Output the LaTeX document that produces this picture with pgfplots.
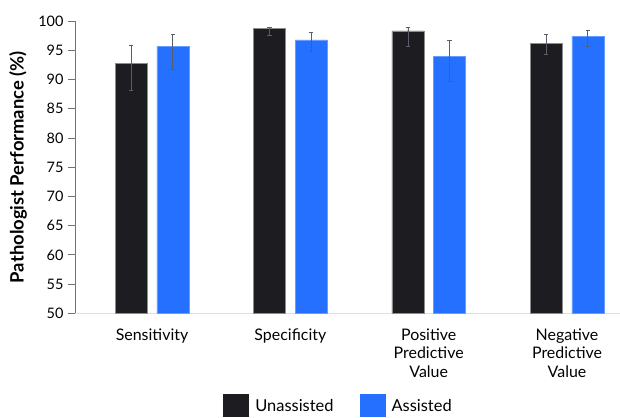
\documentclass[border=0pt]{standalone}
\usepackage{pgfplots}
\pgfplotsset{compat=1.18}
\usepackage{fontspec}
\setmainfont{Lato}
\definecolor{unas}{HTML}{1D1D21}
\definecolor{asst}{HTML}{2570FF}
\definecolor{errc}{HTML}{5C5C6A}
\pgfplotstableread{
x y ep em
0 92.8 3.1 4.6
1 98.7 0.25 1.15
2 98.3 0.6 2.6
3 96.2 1.5 1.9
}\unassisted
\pgfplotstableread{
x y ep em
0 95.6 2.05 3.9
1 96.75 1.25 2.0
2 93.9 2.8 4.2
3 97.4 1.0 1.7
}\assisted
\begin{document}
\begin{tikzpicture}
\useasboundingbox (0,0) rectangle (620bp,418bp);
\begin{axis}[
  at={(75bp,104.7bp)}, anchor=south west,
  scale only axis, width=545bp, height=292.3bp,
  xmin=-0.557, xmax=3.383, ymin=50, ymax=100,
  ytick={50,55,...,100},
  xtick={0,1,2,3},
  xticklabels={Sensitivity, Specificity, {Positive\\Predictive\\Value}, {Negative\\Predictive\\Value}},
  xticklabel style={align=center, font=\fontsize{16}{18.5}\selectfont, yshift=-5bp},
  yticklabel style={font=\fontsize{14.5}{16}\selectfont, xshift=-1bp},
  /pgf/number format/assume math mode=true,
  axis x line*=bottom, axis y line*=left,
  x axis line style={-, draw=black!12, line width=1bp},
  y axis line style={-, draw=black!55, line width=0.8bp},
  xtick style={draw=none},
  ytick style={draw=black!55, line width=0.8bp},
  tick align=outside, major tick length=7bp,
  ylabel={\bfseries Pathologist Performance (\%)},
  ylabel style={at={(axis description cs:-0.1046,0.5)}, anchor=center, font=\fontsize{18.5}{20}\selectfont},
  ybar, bar width=32bp,
  legend style={at={(axis description cs:0.4835,-0.317)}, anchor=center, draw=none, fill=none,
    legend columns=2, font=\fontsize{16.5}{19}\selectfont,
    /tikz/every odd column/.append style={column sep=4bp},
    /tikz/every even column/.append style={column sep=24bp}},
  legend image code/.code={\draw[#1,draw=none] (0bp,-11.5bp) rectangle (26bp,11.5bp);},
  error bars/error bar style={draw=errc, line width=0.9bp},
  error bars/error mark options={rotate=90, mark size=2.2bp, draw=errc, line width=0.9bp},
]
\addplot[fill=unas, draw=black!45, line width=0.5bp, bar shift=-20.75bp,
  error bars/.cd, y dir=both, y explicit]
  table[x=x, y=y, y error plus=ep, y error minus=em] {\unassisted};
\addplot[fill=asst, draw=asst!70, line width=0.5bp, bar shift=20.75bp,
  error bars/.cd, y dir=both, y explicit]
  table[x=x, y=y, y error plus=ep, y error minus=em] {\assisted};
\legend{Unassisted, Assisted}
\end{axis}
\end{tikzpicture}
\end{document}
